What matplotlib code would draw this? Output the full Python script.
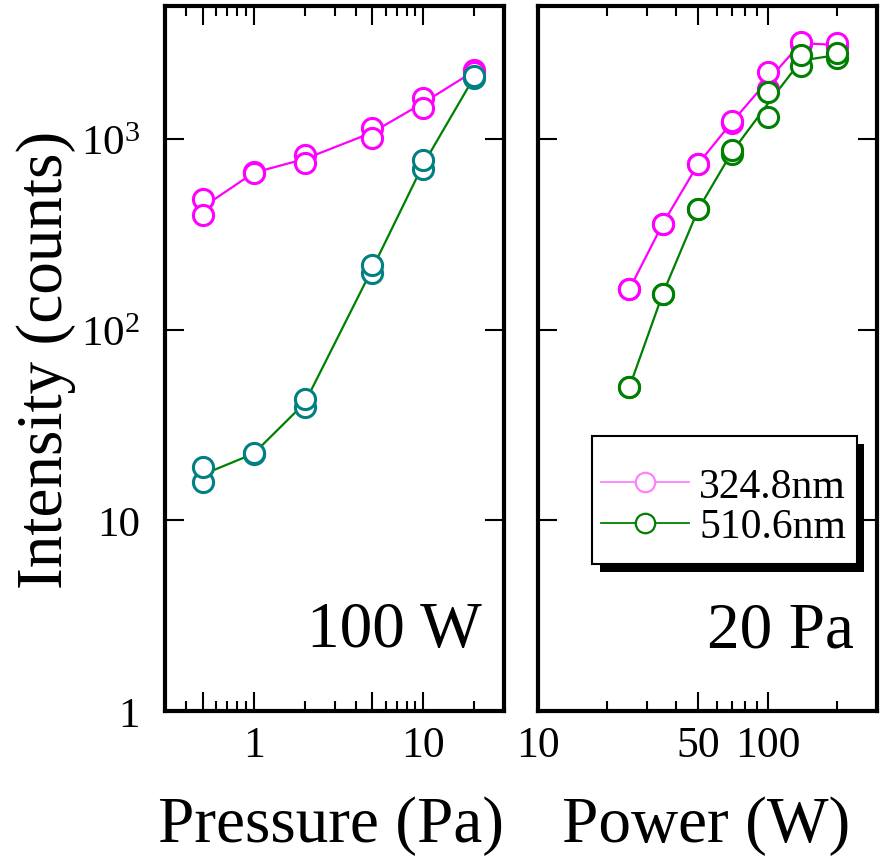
import numpy as np
import matplotlib
matplotlib.use("Agg")
import matplotlib.pyplot as plt
from matplotlib.ticker import FixedLocator, NullLocator, FixedFormatter
from matplotlib.lines import Line2D
from matplotlib.patches import Rectangle

plt.rcParams['font.family'] = ['Liberation Serif', 'DejaVu Serif']
plt.rcParams['mathtext.fontset'] = 'custom'
plt.rcParams['mathtext.rm'] = 'Liberation Serif'

# ---------------- data ----------------
pressure = [0.5, 1, 2, 5, 10, 20]                    # Pa (at 100 W)
p324_a = [484, 669, 828, 1152, 1640, 2300]
p324_b = [399, 665, 748, 1020, 1466, 2255]
p510_a = [19.0, 22.5, 43.4, 219, 776, 2150]
p510_b = [15.9, 22.3, 39.2, 198, 697, 2090]

power = [25, 35, 50, 70, 100, 140, 200]              # W (at 20 Pa)
w324_a = [163, 361, 745, 1247, 2240, 3235, 3185]
w324_b = [163, 361, 745, 1213, 1830, 3150, 3062]
w510_a = [49.9, 155, 430, 879, 1770, 2760, 2850]
w510_b = [49.9, 155, 430, 834, 1315, 2420, 2680]

series_labels = ['324.8nm', '510.6nm']
y_ticks = [1, 10, 100, 1000]
y_ticklabels = ['1', '10', r'$\mathregular{10^2}$', r'$\mathregular{10^3}$']
p_major = [0.5, 1, 5, 10]
p_major_labels = ['', '1', '', '10']
p_minor = [0.4, 0.6, 0.7, 0.8, 0.9, 2, 3, 4, 6, 7, 8, 9, 20]
w_major = [10, 50, 100]
w_major_labels = ['10', '50', '100']
w_minor = [20, 30, 40, 60, 70, 80, 90, 200]

MAG = '#ff00ff'
GRN = '#008000'
TEAL = '#008080'
PINK = '#ff80ff'

def gmean(a, b):
    return np.sqrt(np.array(a, float) * np.array(b, float))

fig = plt.figure(figsize=(8.85, 8.62), dpi=100)
ax1 = fig.add_axes([165 / 885, (862 - 712) / 862, 339 / 885, 705 / 862])
ax2 = fig.add_axes([538 / 885, (862 - 712) / 862, 339 / 885, 705 / 862])

mk = dict(marker='o', ms=14.5, mew=2.2, mfc='white', ls='none', zorder=3)

# left panel
ax1.plot(pressure, gmean(p324_a, p324_b), color=MAG, lw=1.6, zorder=2)
ax1.plot(pressure, gmean(p510_a, p510_b), color=GRN, lw=1.6, zorder=2)
ax1.plot(pressure, p324_a, mec=MAG, **mk)
ax1.plot(pressure, p324_b, mec=MAG, **mk)
ax1.plot(pressure, p510_b, mec=TEAL, **mk)
ax1.plot(pressure, p510_a, mec=TEAL, **mk)

# right panel
ax2.plot(power, gmean(w324_a, w324_b), color=MAG, lw=1.6, zorder=2)
ax2.plot(power, gmean(w510_a, w510_b), color=GRN, lw=1.6, zorder=2)
ax2.plot(power, w324_b, mec=MAG, **mk)
ax2.plot(power, w324_a, mec=MAG, **mk)
ax2.plot(power, w510_b, mec=GRN, **mk)
ax2.plot(power, w510_a, mec=GRN, **mk)

for ax in (ax1, ax2):
    ax.set_xscale('log')
    ax.set_yscale('log')
    ax.set_ylim(1, 5000)
    ax.yaxis.set_major_locator(FixedLocator(y_ticks))
    ax.yaxis.set_minor_locator(NullLocator())
    for s in ax.spines.values():
        s.set_linewidth(3)
    ax.tick_params(which='both', direction='in', top=True, right=True, width=1.5)
    ax.tick_params(which='major', length=14)
    ax.tick_params(which='minor', length=7)
    ax.tick_params(axis='x', which='major', labelsize=31.5, pad=10)
    ax.tick_params(axis='y', which='major', labelsize=31, pad=18)

ax1.set_xlim(0.3, 30)
ax1.xaxis.set_major_locator(FixedLocator(p_major))
ax1.xaxis.set_major_formatter(FixedFormatter(p_major_labels))
ax1.xaxis.set_minor_locator(FixedLocator(p_minor))
ax1.xaxis.set_minor_formatter(FixedFormatter([''] * len(p_minor)))
ax1.yaxis.set_major_formatter(FixedFormatter(y_ticklabels))

ax2.set_xlim(10, 300)
ax2.xaxis.set_major_locator(FixedLocator(w_major))
ax2.xaxis.set_major_formatter(FixedFormatter(w_major_labels))
ax2.xaxis.set_minor_locator(FixedLocator(w_minor))
ax2.xaxis.set_minor_formatter(FixedFormatter([''] * len(w_minor)))
ax2.tick_params(axis='y', labelleft=False)

ax1.set_xlabel('Pressure (Pa)', fontsize=47)
ax2.set_xlabel('Power (W)', fontsize=47)
ax1.xaxis.set_label_coords(0.491, -0.12)
ax2.xaxis.set_label_coords(0.496, -0.12)
ax1.set_ylabel('Intensity (counts)', fontsize=47)
ax1.yaxis.set_label_coords(-0.263, 0.5)

ax1.text(0.935, 0.092, '100 W', transform=ax1.transAxes, ha='right', va='baseline', fontsize=47)
ax2.text(0.932, 0.092, '20 Pa', transform=ax2.transAxes, ha='right', va='baseline', fontsize=47)

# legend: frame and solid shadow drawn as boxes, entries drawn by legend()
bx0, bx1 = 0.1593, 0.941
by0, by1 = 0.2085, 0.390
sdx, sdy = 7.5 / 339, 7.5 / 705
ax2.add_patch(Rectangle((bx0 + sdx, by0 - sdy), bx1 - bx0, by1 - by0, transform=ax2.transAxes,
                        facecolor='black', edgecolor='none', clip_on=False, zorder=5.4))
ax2.add_patch(Rectangle((bx0, by0), bx1 - bx0, by1 - by0, transform=ax2.transAxes,
                        facecolor='white', edgecolor='black', lw=1.5, clip_on=False, zorder=5.5))

handles = [Line2D([], [], color=PINK, lw=1.3, marker='o', ms=14, mfc='white', mec=PINK, mew=1.6),
           Line2D([], [], color=GRN, lw=1.3, marker='o', ms=14, mfc='white', mec=GRN, mew=1.6)]
leg = ax2.legend(handles, series_labels, loc='center',
                 bbox_to_anchor=(0.548, 0.290),
                 borderaxespad=0, fontsize=30, frameon=False,
                 handlelength=2.1, handletextpad=0.25,
                 labelspacing=0.05, borderpad=0.1)
leg.set_zorder(6)

fig.savefig('out.png', dpi=100)
